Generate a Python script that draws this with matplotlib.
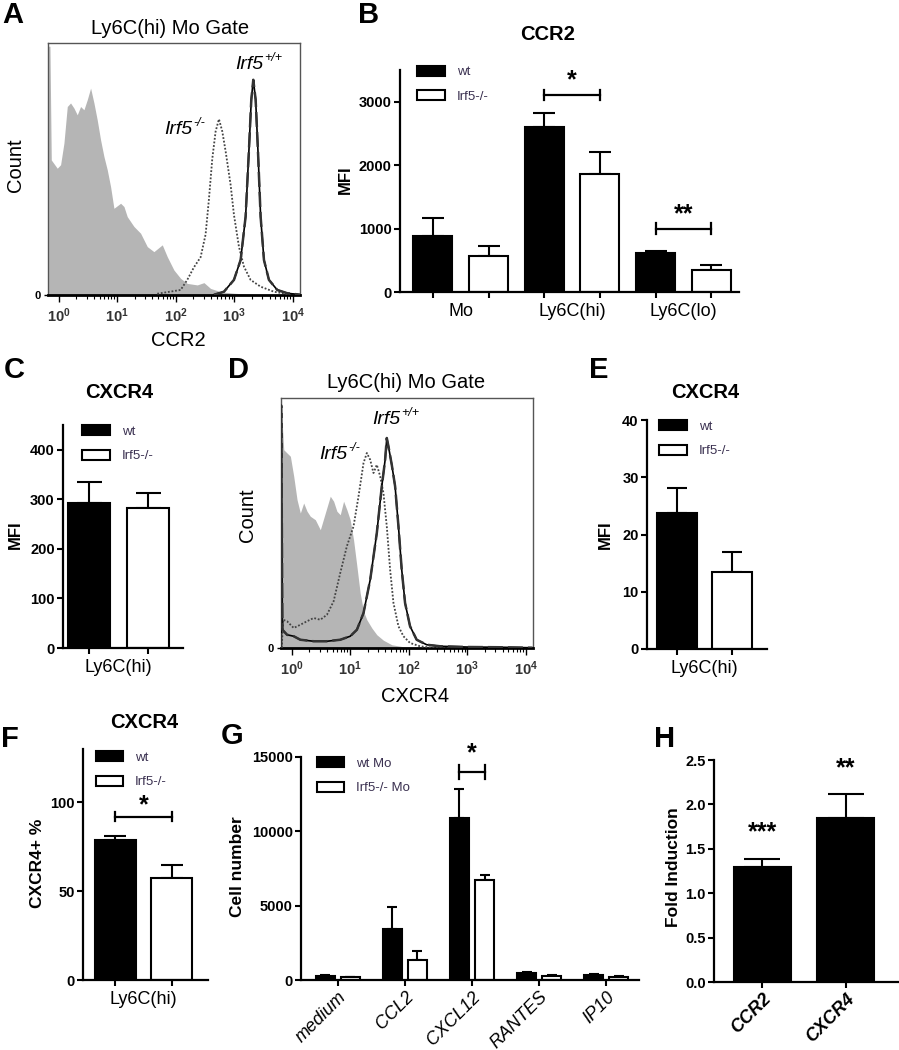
import numpy as np
import matplotlib
matplotlib.use("Agg")
import matplotlib.pyplot as plt

plt.rcParams['font.family'] = ['Liberation Sans', 'DejaVu Sans']
plt.rcParams['mathtext.fontset'] = 'custom'
plt.rcParams['mathtext.rm'] = 'Liberation Sans'
plt.rcParams['mathtext.it'] = 'Liberation Sans:italic'
plt.rcParams['mathtext.bf'] = 'Liberation Sans:bold'

# ---- data ----
# A: CCR2 histogram (x = log10 fluorescence, y = % of max count)
a_fill_x = [-0.17, -0.147, -0.124, -0.022, 0.035, 0.092, 0.149, 0.205, 0.262, 0.319, 0.376, 0.433,
            0.49, 0.547, 0.604, 0.66, 0.717, 0.774, 0.831, 0.888, 0.945, 1.059, 1.116, 1.172, 1.286,
            1.4, 1.514, 1.627, 1.77, 1.855, 1.969, 2.083, 2.196, 2.367, 2.481, 2.594, 2.765, 2.993,
            3.277, 4.13]
a_fill_y = [98.7, 98.7, 53.6, 50.3, 51.7, 60.3, 74.8, 76.2, 74.2, 71.5, 74.8, 73.5,
            77.5, 82.1, 76.2, 69.5, 61.6, 55.0, 49.7, 43.0, 34.4, 36.4, 35.1, 31.1, 27.2,
            24.5, 19.2, 17.2, 19.9, 15.2, 9.9, 6.6, 4.6, 4.0, 4.9, 2.6, 1.3, 0.7,
            0.3, 0.0]
a_ko_x = [1.684, 2.083, 2.196, 2.31, 2.424, 2.509, 2.566, 2.623, 2.68, 2.737, 2.794, 2.851, 2.936,
          2.993, 3.078, 3.163, 3.277, 3.448, 3.675, 3.903, 4.13]
a_ko_y = [0.5, 2.0, 6.0, 11.0, 15.0, 24.0, 38.0, 54.0, 64.9, 69.8, 64.9, 57.0, 43.7,
          31.8, 19.2, 11.3, 6.0, 3.3, 1.3, 0.4, 0.1]
a_wt_x = [2.651, 2.822, 2.993, 3.107, 3.192, 3.249, 3.289, 3.323, 3.363, 3.402, 3.448, 3.505,
          3.59, 3.732, 3.903, 4.13]
a_wt_y = [0.1, 1.3, 6.0, 13.9, 31.1, 57.6, 77.5, 85.4, 77.5, 57.6, 31.1, 13.9,
          6.0, 2.0, 0.7, 0.1]

# D: CXCR4 histogram
d_fill_x = [-0.179, -0.177, -0.133, -0.077, -0.02, 0.037, 0.094, 0.15, 0.207, 0.264, 0.32, 0.406,
            0.491, 0.576, 0.661, 0.718, 0.774, 0.831, 0.888, 0.944, 1.001, 1.058, 1.115, 1.171,
            1.228, 1.285, 1.37, 1.455, 1.568, 1.71, 1.909, 2.306, 4.11]
d_fill_y = [0.0, 97.0, 79.3, 78.0, 76.7, 68.7, 59.3, 54.0, 58.0, 54.7, 52.7, 51.3,
            47.3, 54.0, 60.7, 58.7, 54.7, 53.3, 58.7, 55.3, 51.3, 43.3, 32.7, 22.0,
            14.7, 11.3, 8.0, 5.3, 3.1, 1.3, 0.5, 0.0, 0.0]
d_ko_x = [-0.167, -0.145, -0.077, 0.037, 0.15, 0.264, 0.377, 0.491, 0.604, 0.718, 0.831, 0.944,
          1.058, 1.143, 1.228, 1.285, 1.342, 1.398, 1.455, 1.512, 1.568, 1.625, 1.682, 1.739,
          1.824, 1.909, 2.022, 2.192, 2.419, 4.11]
d_ko_y = [0.0, 11.3, 10.7, 8.0, 9.3, 10.7, 12.0, 11.3, 13.3, 18.7, 30.0, 40.7,
          48.7, 60.7, 74.0, 78.0, 75.3, 70.0, 73.3, 68.7, 62.0, 48.7, 31.3, 18.0,
          8.7, 4.7, 2.0, 0.7, 0.0, 0.0]
d_wt_x = [-0.179, -0.177, -0.156, -0.077, 0.037, 0.15, 0.377, 0.604, 0.831, 1.001, 1.115, 1.228,
          1.342, 1.455, 1.54, 1.597, 1.625, 1.653, 1.71, 1.767, 1.824, 1.88, 1.937, 2.022,
          2.135, 2.306, 2.533, 2.987, 3.554, 4.11]
d_wt_y = [0.0, 97.0, 7.3, 5.3, 4.7, 3.3, 2.7, 2.7, 3.3, 4.7, 7.3, 14.0,
          27.3, 46.0, 64.7, 75.3, 84.0, 80.7, 73.3, 64.7, 48.7, 31.3, 18.0, 8.7,
          3.3, 1.3, 0.7, 0.4, 0.3, 0.1]

# B: CCR2 MFI
b_groups = ['Mo', 'Ly6C(hi)', 'Ly6C(lo)']
b_wt = [890, 2600, 610]
b_wt_err = [270, 225, 40]
b_ko = [570, 1860, 340]
b_ko_err = [155, 355, 90]

# C: CXCR4 MFI
c_wt, c_wt_err = [292], [43]
c_ko, c_ko_err = [282], [31]

# E: CXCR4 MFI
e_wt, e_wt_err = [23.7], [4.4]
e_ko, e_ko_err = [13.5], [3.4]

# F: CXCR4+ %
f_wt, f_wt_err = [79.0], [2.0]
f_ko, f_ko_err = [57.6], [7.0]

# G: migration
g_cats = ['medium', 'CCL2', 'CXCL12', 'RANTES', 'IP10']
g_wt = [250, 3450, 10900, 450, 330]
g_wt_err = [60, 1450, 1950, 70, 50]
g_ko = [180, 1350, 6700, 250, 200]
g_ko_err = [40, 620, 380, 80, 60]

# H: fold induction
h_cats = ['CCR2', 'CXCR4']
h_val = [1.30, 1.85]
h_err = [0.08, 0.27]

W, H = 899, 1050
fig = plt.figure(figsize=(W / 100, H / 100), dpi=100)


def box(l, t, r, b):
    return fig.add_axes([l / W, 1 - b / H, (r - l) / W, (b - t) / H])


def ftext(x, y, s, **kw):
    ha = kw.pop('ha', 'center')
    va = kw.pop('va', 'center')
    fig.text(x / W, 1 - y / H, s, ha=ha, va=va, **kw)


def gene(x, y, sup):
    # italic gene name with superscript genotype; x = join point
    ftext(x, y, 'Irf5', ha='right', va='baseline', fontsize=14, fontstyle='italic')
    ftext(x + 1, y - 8, sup, ha='left', va='baseline', fontsize=9, fontstyle='italic')


def flow_panel(ax, fx, fy, kx, ky, wx, wy):
    ax.fill_between(fx, fy, 0, color='#b5b5b5', lw=0, zorder=1)
    ax.plot(kx, ky, color='#444444', lw=1.3, ls=(0, (1, 1)), zorder=3)
    ax.plot(wx, wy, color='black', lw=1.2, zorder=4)
    ax.plot(wx, wy, color='#333333', lw=1.8, ls=(0, (6, 2)), zorder=5)
    ax.set_xlim(-0.18, 4.12)
    ax.set_ylim(0, 100)
    for s in ax.spines.values():
        s.set_linewidth(1.0)
        s.set_color('#555555')
    ax.spines['bottom'].set_linewidth(2.0)
    ax.spines['bottom'].set_color('black')
    ax.set_xticks(range(5))
    ax.set_xticklabels([r'$\mathbf{10^{%d}}$' % k for k in range(5)], fontsize=10.5, color='#333333')
    minor = [d + np.log10(k) for d in range(4) for k in range(2, 10)]
    ax.set_xticks(minor, minor=True)
    ax.tick_params(axis='x', which='major', length=5, width=1, pad=3)
    ax.tick_params(axis='x', which='minor', length=3, width=0.8)
    ax.set_yticks([0])
    ax.set_yticklabels(['0'], fontsize=8, fontweight='bold')
    ax.tick_params(axis='y', length=3, width=1, pad=2)


def prism(ax, yticks, ylim, fmt=None):
    for s in ['top', 'right']:
        ax.spines[s].set_visible(False)
    for s in ['left', 'bottom']:
        ax.spines[s].set_linewidth(1.6)
    ax.set_ylim(*ylim)
    ax.set_yticks(yticks)
    if fmt:
        ax.set_yticklabels([fmt % v for v in yticks])
    for lab in ax.get_yticklabels():
        lab.set_fontweight('bold')
        lab.set_fontsize(10.5)
    ax.tick_params(axis='both', which='major', direction='out', length=4, width=1.5, pad=2)


def pair_bars(ax, xw, xk, wt, wt_err, ko, ko_err, width, cap, labels):
    bw = ax.bar(xw, wt, width, color='black', edgecolor='black', lw=1.5, zorder=2, label=labels[0])
    bk = ax.bar(xk, ko, width, color='white', edgecolor='black', lw=1.5, zorder=2, label=labels[1])
    ax.errorbar(xw, wt, yerr=[np.zeros(len(wt)), wt_err], fmt='none', ecolor='black',
                elinewidth=1.5, capsize=cap, capthick=1.5, zorder=1)
    ax.errorbar(xk, ko, yerr=[np.zeros(len(ko)), ko_err], fmt='none', ecolor='black',
                elinewidth=1.5, capsize=cap, capthick=1.5, zorder=1)
    return bw, bk


def legend(ax, x, y):
    lg = ax.legend(loc='upper left', bbox_to_anchor=(x, y), frameon=False, fontsize=9.5,
                   handlelength=2.1, handleheight=0.8, handletextpad=0.9, labelspacing=0.9,
                   borderaxespad=0, borderpad=0)
    for t in lg.get_texts():
        t.set_color('#3a3050')


def bracket(ax, x1, x2, y, h, star, sy, size=18):
    ax.plot([x1, x2], [y, y], color='black', lw=1.6, clip_on=False)
    ax.plot([x1, x1], [y - h, y + h], color='black', lw=1.6, clip_on=False)
    ax.plot([x2, x2], [y - h, y + h], color='black', lw=1.6, clip_on=False)
    ax.text((x1 + x2) / 2, sy, star, ha='center', va='center', fontsize=size,
            fontweight='bold', clip_on=False)


def single_group(ax, xlabel):
    ax.set_xticks([0, 1])
    ax.set_xticklabels(['', ''])
    ax.set_xticks([0.5], minor=True)
    ax.set_xticklabels([xlabel], minor=True, fontsize=13)
    ax.tick_params(axis='x', which='minor', length=0, pad=8)


# ---- A ----
axA = box(48, 43, 300, 295)
flow_panel(axA, a_fill_x, a_fill_y, a_ko_x, a_ko_y, a_wt_x, a_wt_y)
ftext(13, 15, 'A', fontsize=21, fontweight='bold')
ftext(170, 29, 'Ly6C(hi) Mo Gate', fontsize=14.5)
ftext(16, 165, 'Count', fontsize=14.5, rotation=90)
ftext(178, 340, 'CCR2', fontsize=14.5)
gene(263, 69, '+/+')
gene(192, 134, '-/-')

# ---- B ----
axB = box(400, 70, 739, 292)
prism(axB, [0, 1000, 2000, 3000], (0, 3500))
xg = np.arange(len(b_groups))
pair_bars(axB, xg - 0.25, xg + 0.25, b_wt, b_wt_err, b_ko, b_ko_err, 0.35, 8, ['wt', 'Irf5-/-'])
axB.set_xlim(-0.545, 2.5)
axB.set_xticks(np.concatenate([xg - 0.25, xg + 0.25]))
axB.set_xticklabels([''] * 6)
axB.set_xticks(xg, minor=True)
axB.set_xticklabels(b_groups, minor=True, fontsize=13)
axB.tick_params(axis='x', which='minor', length=0, pad=8)
legend(axB, 0.05, 1.02)
bracket(axB, 0.75, 1.25, 3100, 80, '*', 3330)
bracket(axB, 1.75, 2.25, 1000, 80, '**', 1230)
ftext(369, 15, 'B', fontsize=21, fontweight='bold')
ftext(548, 35, 'CCR2', fontsize=14.5, fontweight='bold')
ftext(345, 180, 'MFI', fontsize=12, fontweight='bold', rotation=90)

# ---- C ----
axC = box(63, 425, 183, 648)
prism(axC, [0, 100, 200, 300, 400], (0, 450))
pair_bars(axC, [0], [1], c_wt, c_wt_err, c_ko, c_ko_err, 0.72, 9, ['wt', 'Irf5-/-'])
axC.set_xlim(-0.45, 1.6)
single_group(axC, 'Ly6C(hi)')
legend(axC, 0.16, 1.0)
ftext(14, 370, 'C', fontsize=21, fontweight='bold')
ftext(119, 392, 'CXCR4', fontsize=14.5, fontweight='bold')
ftext(15, 535, 'MFI', fontsize=12, fontweight='bold', rotation=90)

# ---- D ----
axD = box(281, 398, 533, 648)
flow_panel(axD, d_fill_x, d_fill_y, d_ko_x, d_ko_y, d_wt_x, d_wt_y)
ftext(239, 370, 'D', fontsize=21, fontweight='bold')
ftext(406, 382, 'Ly6C(hi) Mo Gate', fontsize=14.5)
ftext(247, 515, 'Count', fontsize=14.5, rotation=90)
ftext(415, 697, 'CXCR4', fontsize=14.5)
gene(400, 424, '+/+')
gene(347, 459, '-/-')

# ---- E ----
axE = box(647, 420, 767, 649)
prism(axE, [0, 10, 20, 30, 40], (0, 40))
pair_bars(axE, [0], [1], e_wt, e_wt_err, e_ko, e_ko_err, 0.72, 7, ['wt', 'Irf5-/-'])
axE.set_xlim(-0.54, 1.63)
single_group(axE, 'Ly6C(hi)')
legend(axE, 0.10, 1.0)
ftext(599, 370, 'E', fontsize=21, fontweight='bold')
ftext(705, 392, 'CXCR4', fontsize=14.5, fontweight='bold')
ftext(605, 535, 'MFI', fontsize=12, fontweight='bold', rotation=90)

# ---- F ----
axF = box(83, 749, 208, 980)
prism(axF, [0, 50, 100], (0, 130))
pair_bars(axF, [0], [1], f_wt, f_wt_err, f_ko, f_ko_err, 0.72, 8, ['wt', 'Irf5-/-'])
axF.set_xlim(-0.57, 1.64)
single_group(axF, 'Ly6C(hi)')
legend(axF, 0.10, 0.99)
bracket(axF, 0, 1, 92, 2.8, '*', 98.5)
ftext(10, 739, 'F', fontsize=21, fontweight='bold')
ftext(144, 722, 'CXCR4', fontsize=14.5, fontweight='bold')
ftext(38, 863, 'CXCR4+ %', fontsize=12.5, fontweight='bold', rotation=90)

# ---- G ----
axG = box(301, 757, 639, 980)
prism(axG, [0, 5000, 10000, 15000], (0, 15000))
xc = np.arange(len(g_cats))
pair_bars(axG, xc - 0.187, xc + 0.187, g_wt, g_wt_err, g_ko, g_ko_err, 0.276, 3.5,
          ['wt Mo', 'Irf5-/- Mo'])
axG.set_xlim(-0.55, 4.49)
axG.set_xticks(xc)
axG.set_xticklabels(g_cats, rotation=45, ha='right', rotation_mode='anchor',
                    fontsize=13, fontstyle='italic')
legend(axG, 0.046, 1.0)
bracket(axG, 2 - 0.187, 2 + 0.187, 14000, 450, '*', 15250)
ftext(232, 736, 'G', fontsize=21, fontweight='bold')
ftext(238, 867, 'Cell number', fontsize=12.5, fontweight='bold', rotation=90)

# ---- H ----
axH = box(714, 760, 899, 982)
prism(axH, [0, 0.5, 1.0, 1.5, 2.0, 2.5], (0, 2.5), fmt='%.1f')
xh = np.arange(len(h_cats))
axH.bar(xh, h_val, 0.69, color='black', edgecolor='black', lw=1.5, zorder=2)
axH.errorbar(xh, h_val, yerr=[np.zeros(len(h_val)), h_err], fmt='none', ecolor='black',
             elinewidth=1.5, capsize=13, capthick=1.5, zorder=1)
axH.set_xlim(-0.58, 1.64)
axH.set_xticks(xh)
axH.set_xticklabels(h_cats, rotation=45, ha='right', rotation_mode='anchor',
                    fontsize=13, fontweight='bold', fontstyle='italic')
axH.text(0, 1.69, '***', ha='center', va='center', fontsize=18, fontweight='bold')
axH.text(1, 2.41, '**', ha='center', va='center', fontsize=18, fontweight='bold')
ftext(665, 739, 'H', fontsize=21, fontweight='bold')
ftext(674, 867, 'Fold Induction', fontsize=12.5, fontweight='bold', rotation=90)

fig.savefig('out.png', dpi=100)
